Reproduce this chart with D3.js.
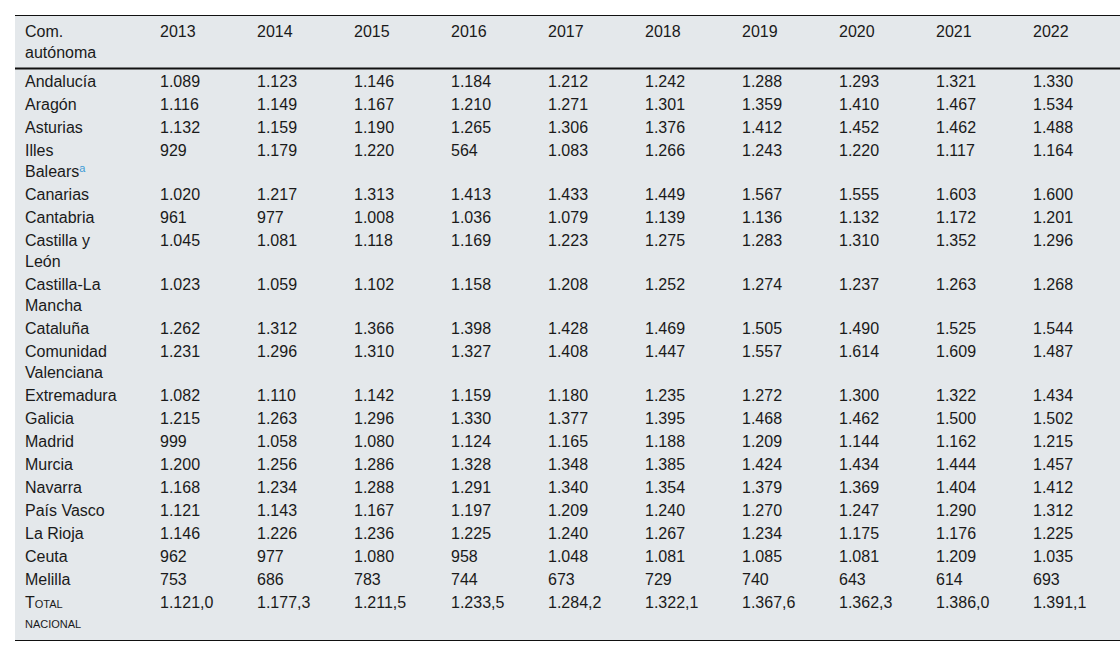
<!DOCTYPE html>
<html>
<head>
<meta charset="utf-8">
<script src="https://cdn.jsdelivr.net/npm/d3@7"></script>
<style>
  body { margin: 0; background: #fff; }
  svg { display: block; font-family: "Liberation Sans", Arial, Helvetica, sans-serif; }
</style>
</head>
<body>
<svg id="chart"></svg>
<script>
const years = [2013, 2014, 2015, 2016, 2017, 2018, 2019, 2020, 2021, 2022];
const headerLabel = ["Com.", "autónoma"];

const regions = [
  ["Andalucía"], ["Aragón"], ["Asturias"], ["Illes", "Balears"], ["Canarias"],
  ["Cantabria"], ["Castilla y", "León"], ["Castilla-La", "Mancha"], ["Cataluña"],
  ["Comunidad", "Valenciana"], ["Extremadura"], ["Galicia"], ["Madrid"], ["Murcia"],
  ["Navarra"], ["País Vasco"], ["La Rioja"], ["Ceuta"], ["Melilla"]
];
const footnoteRows = ["Illes"];

const values = [
  [1089, 1123, 1146, 1184, 1212, 1242, 1288, 1293, 1321, 1330],
  [1116, 1149, 1167, 1210, 1271, 1301, 1359, 1410, 1467, 1534],
  [1132, 1159, 1190, 1265, 1306, 1376, 1412, 1452, 1462, 1488],
  [929, 1179, 1220, 564, 1083, 1266, 1243, 1220, 1117, 1164],
  [1020, 1217, 1313, 1413, 1433, 1449, 1567, 1555, 1603, 1600],
  [961, 977, 1008, 1036, 1079, 1139, 1136, 1132, 1172, 1201],
  [1045, 1081, 1118, 1169, 1223, 1275, 1283, 1310, 1352, 1296],
  [1023, 1059, 1102, 1158, 1208, 1252, 1274, 1237, 1263, 1268],
  [1262, 1312, 1366, 1398, 1428, 1469, 1505, 1490, 1525, 1544],
  [1231, 1296, 1310, 1327, 1408, 1447, 1557, 1614, 1609, 1487],
  [1082, 1110, 1142, 1159, 1180, 1235, 1272, 1300, 1322, 1434],
  [1215, 1263, 1296, 1330, 1377, 1395, 1468, 1462, 1500, 1502],
  [999, 1058, 1080, 1124, 1165, 1188, 1209, 1144, 1162, 1215],
  [1200, 1256, 1286, 1328, 1348, 1385, 1424, 1434, 1444, 1457],
  [1168, 1234, 1288, 1291, 1340, 1354, 1379, 1369, 1404, 1412],
  [1121, 1143, 1167, 1197, 1209, 1240, 1270, 1247, 1290, 1312],
  [1146, 1226, 1236, 1225, 1240, 1267, 1234, 1175, 1176, 1225],
  [962, 977, 1080, 958, 1048, 1081, 1085, 1081, 1209, 1035],
  [753, 686, 783, 744, 673, 729, 740, 643, 614, 693]
];

const totalLabel = ["Total", "nacional"];
const totalValues = [1121.0, 1177.3, 1211.5, 1233.5, 1284.2, 1322.1, 1367.6, 1362.3, 1386.0, 1391.1];

const W = 1120, H = 656;
const tableLeft = 15, tableTop = 15;
const labelX = 25;
const lineFirst = 23, lineNext = 21;
const fontSize = 16;

const es = d3.formatLocale({ decimal: ",", thousands: ".", grouping: [3], currency: ["", " €"] });
const fmtInt = es.format(",d");
const fmtDec = es.format(",.1f");

const svg = d3.select("#chart").attr("width", W).attr("height", H);

// year columns
const x = d3.scalePoint().domain(years).range([160, 1033]);

// rows: header, regions, total
const rows = [{ lines: headerLabel, cells: years.map(String), kind: "head" }]
  .concat(regions.map((r, i) => ({ lines: r, cells: values[i].map(fmtInt), kind: "body" })))
  .concat([{ lines: totalLabel, cells: totalValues.map(fmtDec), kind: "total" }]);

let yCursor = tableTop;
rows.forEach(r => {
  const padTop = r.kind === "head" ? 4.5 : 1;
  const padBottom = r.kind === "head" ? 5 : (r.kind === "total" ? 6.5 : 0);
  r.top = yCursor;
  r.textTop = yCursor + padTop;
  r.height = (r.kind === "head" ? padTop : 0) + lineFirst + lineNext * (r.lines.length - 1) + padBottom;
  yCursor += r.height;
});
const tableBottom = yCursor;
const headBottom = rows[0].top + rows[0].height;

svg.append("rect")
  .attr("x", tableLeft).attr("y", tableTop)
  .attr("width", W - tableLeft).attr("height", tableBottom - tableTop)
  .attr("fill", "#e4e8eb");

const g = svg.append("g").attr("font-size", fontSize).attr("fill", "#1a1a1a");

const rowG = g.selectAll("g.row").data(rows).join("g")
  .attr("class", "row")
  .attr("transform", d => "translate(0," + d.textTop + ")");

// label column
rowG.each(function (d) {
  const sel = d3.select(this);
  d.lines.forEach((line, li) => {
    const t = sel.append("text")
      .attr("x", labelX)
      .attr("y", lineFirst / 2 + li * lineNext)
      .attr("dy", "0.35em")
      .text(line);
    if (d.kind === "total") {
      t.style("font-variant", "small-caps").attr("font-size", li === 0 ? fontSize : fontSize - 1);
    }
    if (li === 1 && footnoteRows.includes(d.lines[0])) {
      t.append("tspan")
        .attr("fill", "#3d9bd6")
        .attr("font-size", 11)
        .attr("dy", "-0.45em")
        .text("a");
    }
  });
});

// year cells
rowG.selectAll("text.cell")
  .data(d => d.cells.map((c, i) => ({ c, year: years[i] })))
  .join("text")
  .attr("class", "cell")
  .attr("x", d => x(d.year))
  .attr("y", lineFirst / 2)
  .attr("dy", "0.35em")
  .text(d => d.c);

// rules
svg.append("line").attr("x1", tableLeft).attr("x2", W)
  .attr("y1", tableTop + 0.5).attr("y2", tableTop + 0.5)
  .attr("stroke", "#111").attr("stroke-width", 1);
svg.append("line").attr("x1", tableLeft).attr("x2", W)
  .attr("y1", headBottom).attr("y2", headBottom)
  .attr("stroke", "#111").attr("stroke-width", 2);
svg.append("line").attr("x1", tableLeft).attr("x2", W)
  .attr("y1", tableBottom + 0.5).attr("y2", tableBottom + 0.5)
  .attr("stroke", "#111").attr("stroke-width", 1);
</script>
</body>
</html>
